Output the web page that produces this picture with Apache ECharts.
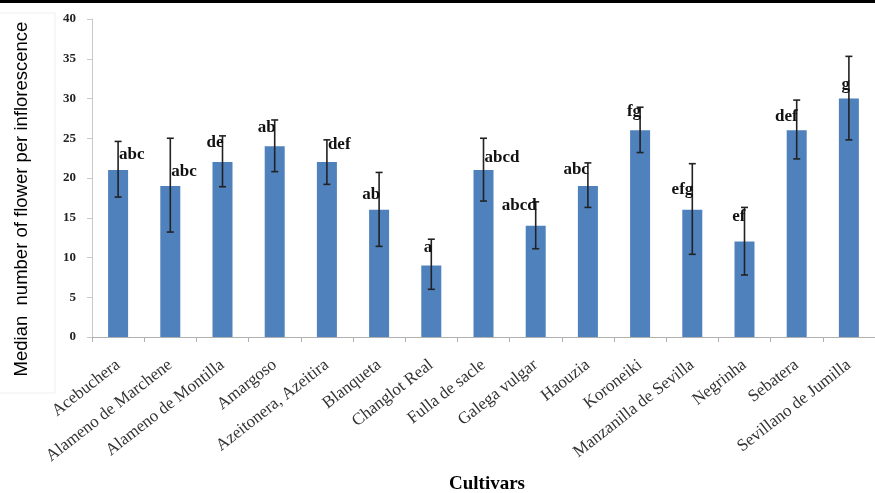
<!DOCTYPE html>
<html lang="en">

<head>
    <meta charset="UTF-8">
    <title>Cultivars</title>
    <script src="https://cdn.jsdelivr.net/npm/echarts@6/dist/echarts.min.js"></script>
    <style>
        * {
            padding: 0;
            margin: 0;
        }

        html,
        body {
            width: 100%;
            height: 100%;
            background: #fff;
        }

        #main {
            width: 875px;
            height: 493px;
        }
    </style>
</head>

<body>
    <div id="main"></div>
</body>

</html>
<script>
    // data
    let cultivars = ['Acebuchera', 'Alameno de Marchene', 'Alameno de Montilla', 'Amargoso', 'Azeitonera, Azeitira',
        'Blanqueta', 'Changlot Real', 'Fulla de sacle', 'Galega vulgar', 'Haouzia', 'Koroneiki',
        'Manzanilla de Sevilla', 'Negrinha', 'Sebatera', 'Sevillano de Jumilla'];
    let medians = [21, 19, 22, 24, 22, 16, 9, 21, 14, 19, 26, 16, 12, 26, 30];
    let errHigh = [24.6, 25, 25.3, 27.3, 24.8, 20.7, 12.3, 25, 17, 21.9, 28.9, 21.8, 16.3, 29.8, 35.3];
    let errLow = [17.6, 13.2, 18.9, 20.8, 19.2, 11.4, 6, 17.1, 11.1, 16.3, 23.2, 10.4, 7.8, 22.4, 24.8];
    let letters = ['abc', 'abc', 'de', 'ab', 'def', 'ab', 'a', 'abcd', 'abcd', 'abc', 'fg', 'efg', 'ef', 'def', 'g'];
    // height (in axis units) where each letter group sits, and which side of the error bar
    let letterAt = [22.9, 20.8, 24.4, 26.4, 24.2, 17.9, 11.2, 22.6, 16.5, 21, 28.3, 18.5, 15.1, 27.7, 31.7];
    let letterSide = ['r', 'r', 'l', 'l', 'r', 'l', 'l', 'r', 'l', 'l', 'l', 'l', 'l', 'l', 'l'];
    let yTicks = [0, 5, 10, 15, 20, 25, 30, 35, 40];

    var myChart = echarts.init(document.getElementById('main'));

    let serif = '"Liberation Serif", "DejaVu Serif", serif';

    option = {
        animation: false,
        grid: {
            left: 92,
            right: -6,
            top: 19,
            bottom: 156
        },
        graphic: [
            {
                type: 'rect',
                shape: { x: 0, y: 0, width: 875, height: 3 },
                style: { fill: '#000' }
            },
            {
                type: 'rect',
                shape: { x: -2, y: 13, width: 57, height: 380 },
                style: { fill: 'none', stroke: '#eeeeee', lineWidth: 1 }
            },
            {
                type: 'text',
                x: 22,
                y: 199,
                rotation: Math.PI / 2,
                style: {
                    text: 'Median  number of flower per inflorescence',
                    font: '18.5px "Liberation Sans", Arial, sans-serif',
                    fill: '#000',
                    align: 'center',
                    verticalAlign: 'middle'
                }
            },
            {
                type: 'text',
                left: 449,
                top: 475,
                style: {
                    text: 'Cultivars',
                    font: 'bold 19px ' + serif,
                    fill: '#000'
                }
            }
        ],
        xAxis: {
            type: 'category',
            data: cultivars,
            axisLine: { lineStyle: { color: '#b0b0b0' } },
            axisTick: { show: true, alignWithLabel: false, length: 5, lineStyle: { color: '#b0b0b0' } },
            axisLabel: {
                rotate: 38,
                interval: 0,
                margin: 26,
                color: '#333',
                fontFamily: serif,
                fontSize: 17
            },
            splitLine: { show: false }
        },
        yAxis: {
            type: 'value',
            min: yTicks[0],
            max: yTicks[yTicks.length - 1],
            interval: 5,
            axisLine: { show: true, lineStyle: { color: '#c8c8c8' } },
            axisTick: { show: true, length: 5, lineStyle: { color: '#c8c8c8' } },
            axisLabel: {
                color: '#222',
                fontFamily: serif,
                fontWeight: 'bold',
                fontSize: 13,
                margin: 16
            },
            splitLine: { show: false }
        },
        series: [
            {
                type: 'bar',
                data: medians,
                barWidth: 20,
                itemStyle: { color: '#4f81bd' }
            },
            {
                type: 'custom',
                data: medians.map(function (v, i) { return [i, errLow[i], errHigh[i]]; }),
                z: 10,
                renderItem: function (params, api) {
                    let i = api.value(0);
                    let lo = api.coord([i, api.value(1)]);
                    let hi = api.coord([i, api.value(2)]);
                    let lab = api.coord([i, letterAt[i]]);
                    let x = lo[0];
                    let cap = 3.5;
                    let style = { stroke: '#222', lineWidth: 1.6 };
                    let right = letterSide[i] === 'r';
                    return {
                        type: 'group',
                        children: [
                            { type: 'line', shape: { x1: x, y1: lo[1], x2: x, y2: hi[1] }, style: style },
                            { type: 'line', shape: { x1: x - cap, y1: hi[1], x2: x + cap, y2: hi[1] }, style: style },
                            { type: 'line', shape: { x1: x - cap, y1: lo[1], x2: x + cap, y2: lo[1] }, style: style },
                            {
                                type: 'text',
                                x: x + 1,
                                y: lab[1],
                                style: {
                                    text: letters[i],
                                    font: 'bold 17px ' + serif,
                                    fill: '#111',
                                    align: right ? 'left' : 'right',
                                    verticalAlign: 'middle'
                                }
                            }
                        ]
                    };
                }
            }
        ]
    };
    myChart.setOption(option);
</script>
